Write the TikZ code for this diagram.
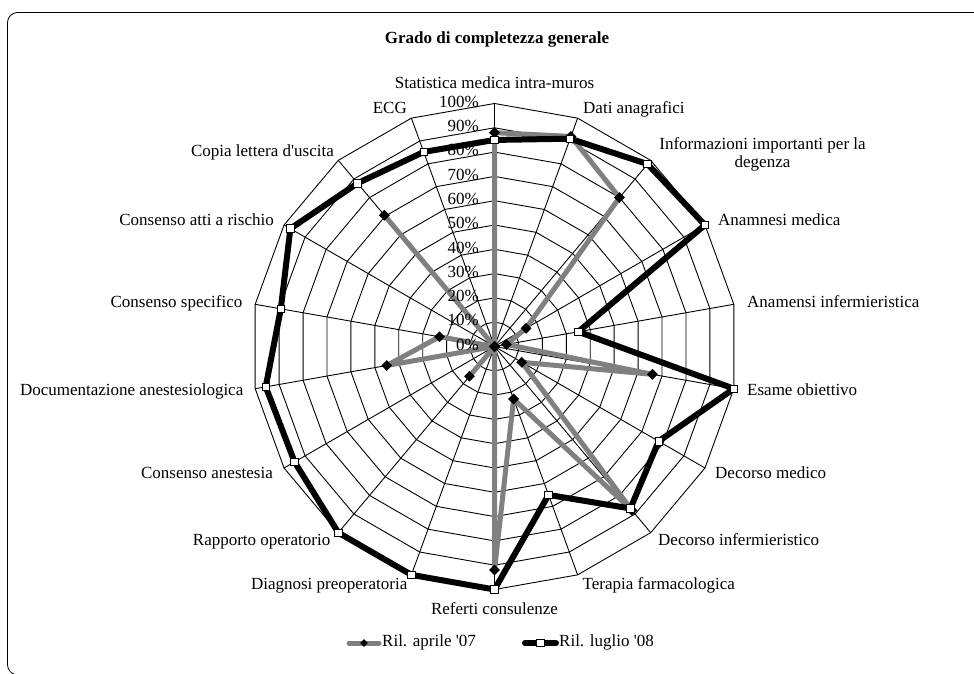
\documentclass[tikz,border=0pt]{standalone}
\usepackage{fontspec}
\setmainfont{Liberation Serif}
\usetikzlibrary{shapes.geometric}
\definecolor{serA}{RGB}{128,128,128}
\begin{document}
\begin{tikzpicture}[x=1pt,y=-1pt,
  lbl/.style={font=\fontsize{17}{18.3}\selectfont, inner sep=0pt},
  gridline/.style={line width=0.9pt, draw=black},
  seriesA/.style={line width=5pt, draw=serA, line join=round},
  seriesB/.style={line width=6pt, draw=black, line join=round},
  mkA/.style={diamond, fill=black, minimum size=11pt, inner sep=0pt},
  mkB/.style={rectangle, draw=black, fill=white, line width=0.8pt, minimum size=7.5pt, inner sep=0pt},
]
\useasboundingbox (0,0) rectangle (974,674);
\clip (0,0) rectangle (974,674);
% chart frame
\draw[rounded corners=10pt, line width=0.8pt] (7.5,12.5) rectangle (1010,674.8);

\node[font=\bfseries\fontsize{17}{20}\selectfont, inner sep=0pt] (title) at (497,39) {Grado di completezza generale};

\begin{scope}[shift={(494.5,346.5)}]
  % concentric rings 10% ... 100%
  \foreach \i in {1,...,10}
    \draw[gridline] (-90:{\i*24.3}) \foreach \k in {1,...,17}{ -- ({-90+20*\k}:{\i*24.3}) } -- cycle;
  % spokes
  \foreach \k in {0,...,17}
    \draw[gridline] (0,0) -- ({-90+20*\k}:243);

  % series: Ril. aprile '07
  \foreach \v [count=\k from 0] in {0.88,0.92,0.80,0.15,0.05,0.66,0.13,0.88,0.23,0.92,0,0.16,0,0.45,0.23,0,0.705,0}
    \coordinate (a\k) at ({-90+20*\k}:{\v*243});
  \draw[seriesA] (a0) \foreach \k in {1,...,17}{ -- (a\k) } -- cycle;
  \foreach \k in {0,...,17} \node[mkA] (ma\k) at (a\k) {};

  % series: Ril. luglio '08
  \foreach \v [count=\k from 0] in {0.85,0.91,0.98,1.0,0.35,1.0,0.78,0.87,0.65,1.0,1.0,1.0,0.95,0.956,0.893,0.97,0.877,0.852}
    \coordinate (b\k) at ({-90+20*\k}:{\v*243});
  \draw[seriesB] (b0) \foreach \k in {1,...,17}{ -- (b\k) } -- cycle;
  \foreach \k in {0,...,17} \node[mkB] (mb\k) at (b\k) {};
\end{scope}

% scale labels
\foreach \i in {0,...,10}{
  \pgfmathtruncatemacro\pc{\i*10}
  \node[lbl, anchor=mid east] (p\i) at (479, {348-\i*24.3}) {\pc\%};
}

% category labels
\node[lbl, anchor=mid]      (c0)  at (494.5,86.5) {Statistica medica intra-muros};
\node[lbl, anchor=mid west] (c1)  at (583,111.5) {Dati anagrafici};
\node[lbl, align=center, font=\fontsize{17}{18.3}\selectfont] (c2) at (762.5,154) {Informazioni importanti per la\\degenza};
\node[lbl, anchor=mid west] (c3)  at (718,223.5) {Anamnesi medica};
\node[lbl, anchor=mid west] (c4)  at (747,305) {Anamensi infermieristica};
\node[lbl, anchor=mid west] (c5)  at (747,393.5) {Esame obiettivo};
\node[lbl, anchor=mid west] (c6)  at (715,476.5) {Decorso medico};
\node[lbl, anchor=mid west] (c7)  at (658,543.5) {Decorso infermieristico};
\node[lbl, anchor=mid west] (c8)  at (582.5,587.5) {Terapia farmacologica};
\node[lbl, anchor=mid]      (c9)  at (494.5,612.5) {Referti consulenze};
\node[lbl, anchor=mid east] (c10) at (407.5,587.5) {Diagnosi preoperatoria};
\node[lbl, anchor=mid east] (c11) at (330.5,543.5) {Rapporto operatorio};
\node[lbl, anchor=mid east] (c12) at (273,476.5) {Consenso anestesia};
\node[lbl, anchor=mid east] (c13) at (243.5,393.5) {Documentazione anestesiologica};
\node[lbl, anchor=mid east] (c14) at (242.5,305) {Consenso specifico};
\node[lbl, anchor=mid east] (c15) at (274,223.5) {Consenso atti a rischio};
\node[lbl, anchor=mid east] (c16) at (334,154.5) {Copia lettera d\textquotesingle uscita};
\node[lbl, anchor=mid east] (c17) at (407,111.5) {ECG};

% legend
\coordinate (la1) at (349,643);
\coordinate (la2) at (379,643);
\draw[seriesA, line cap=round] (la1) -- (la2);
\node[mkA, minimum size=8pt] (lma) at (364,643) {};
\node[lbl, anchor=mid west] (lta) at (382,644.5) {Ril. aprile \textquotesingle 07};
\coordinate (lb1) at (525,643);
\coordinate (lb2) at (556,643);
\draw[seriesB, line cap=round] (lb1) -- (lb2);
\node[mkB] (lmb) at (540.5,643) {};
\node[lbl, anchor=mid west] (ltb) at (559,644.5) {Ril. luglio \textquotesingle 08};
\end{tikzpicture}
\end{document}
